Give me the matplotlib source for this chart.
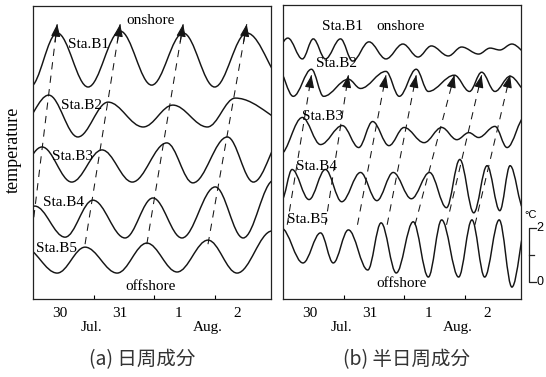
import numpy as np
import matplotlib
matplotlib.use('Agg')
import matplotlib.pyplot as plt
from matplotlib.path import Path
from matplotlib.patches import PathPatch

plt.rcParams['font.family'] = 'Liberation Serif'

# time axis: days from 00:00 Jul. 30; values: temperature anomaly (degC) at each turning point
stations = ['Sta.B1', 'Sta.B2', 'Sta.B3', 'Sta.B4', 'Sta.B5']
day_labels = ['30', '31', '1', '2']
day_label_pos = [0.44, 1.44, 2.40, 3.37]
month_labels = ['Jul.', 'Aug.']
month_label_pos = [0.97, 2.89]

# (a) diurnal component
a_b1_t = [-0.05, 0.40, 0.91, 1.44, 1.96, 2.48, 3.00, 3.53, 4.20]
a_b1_v = [-1.00, 1.00, -1.00, 1.07, -0.93, 1.00, -1.00, 1.00, -0.93]
a_b2_t = [-0.20, 0.26, 0.74, 1.24, 1.82, 2.31, 2.88, 3.34, 4.40]
a_b2_v = [-0.37, 0.74, -0.81, 0.48, -0.44, 0.37, -0.44, 0.63, -0.44]
a_b3_t = [-0.35, 0.15, 0.64, 1.14, 1.64, 2.21, 2.64, 3.21, 3.64, 4.15]
a_b3_v = [-0.67, 0.63, -0.67, 0.52, -0.67, 0.78, -0.70, 1.00, -0.67, 1.07]
a_b4_t = [-0.45, 0.03, 0.53, 0.99, 1.52, 1.98, 2.46, 3.01, 3.47, 3.98]
a_b4_v = [-0.67, 0.48, -0.67, 0.70, -0.70, 0.78, -0.70, 1.19, -0.70, 1.44]
a_b5_t = [-0.15, 0.40, 0.86, 1.39, 1.88, 2.38, 2.89, 3.37, 3.95]
a_b5_v = [0.44, -0.52, 0.44, -0.52, 0.59, -0.48, 0.70, -0.52, 1.04]
a_arrow_from = [-0.04, 0.86, 1.88, 2.89]   # peak times at Sta.B5
a_arrow_to = [0.40, 1.44, 2.48, 3.53]      # peak times at Sta.B1

# (b) semi-diurnal component
b_b1_t = [-0.15, 0.08, 0.32, 0.50, 0.70, 0.95, 1.15, 1.42, 1.70, 1.98, 2.23, 2.45,
          2.73, 2.95, 3.23, 3.42, 3.58, 3.78, 4.05]
b_b1_v = [-0.15, 0.44, -0.33, 0.41, -0.33, 0.41, -0.41, 0.30, -0.33, 0.22, -0.26, 0.15,
          -0.22, 0.11, -0.15, 0.07, 0.00, 0.22, -0.15]
b_b2_t = [-0.08, 0.17, 0.47, 0.67, 1.08, 1.28, 1.70, 1.92, 2.20, 2.40, 2.83, 3.08,
          3.28, 3.50, 3.75, 4.03]
b_b2_v = [0.52, -0.48, 0.52, -0.48, 0.15, -0.19, 0.44, -0.48, 0.52, -0.30, 0.30, -0.30,
          0.41, -0.30, 0.26, -0.30]
b_b3_t = [-0.05, 0.32, 0.62, 0.98, 1.25, 1.48, 1.75, 2.00, 2.33, 2.62, 2.87, 3.07,
          3.23, 3.50, 3.70, 4.00]
b_b3_v = [-0.74, 0.63, -0.37, 0.33, -0.48, 0.48, -0.41, 0.26, -0.30, 0.26, -0.19, 0.07,
          -0.11, 0.30, -0.48, 0.67]
b_b4_t = [-0.02, 0.15, 0.43, 0.70, 0.97, 1.28, 1.55, 1.82, 2.12, 2.42, 2.70, 2.92,
          3.15, 3.37, 3.58, 3.75, 3.98]
b_b4_v = [-0.44, 0.67, -0.44, 0.67, -0.52, 0.56, -0.48, 0.56, -0.41, 0.56, -0.74, 1.04,
          -0.93, 0.81, -0.85, 0.81, -0.81]
b_b5_t = [-0.03, 0.33, 0.62, 0.83, 1.08, 1.40, 1.62, 1.87, 2.15, 2.40, 2.62, 2.90,
          3.12, 3.33, 3.57, 3.78, 4.03]
b_b5_v = [0.81, -0.48, 0.63, -0.48, 0.74, -0.74, 1.00, -0.85, 1.04, -1.00, 1.11, -1.00,
          1.11, -1.00, 1.11, -1.37, 1.04]
b_arrow_from = [0.07, 0.70, 1.23, 1.72, 2.18, 2.70, 3.17]   # at Sta.B5
b_arrow_to = [0.47, 1.08, 1.70, 2.20, 2.83, 3.28, 3.75]     # peaks at Sta.B2


def smooth_path(t, v, off, k=0.36):
    # cubic bezier through turning points, flat tangents at each one
    verts = [(t[0], v[0] + off)]
    codes = [Path.MOVETO]
    for i in range(len(t) - 1):
        dt = t[i + 1] - t[i]
        verts += [(t[i] + k * dt, v[i] + off), (t[i + 1] - k * dt, v[i + 1] + off),
                  (t[i + 1], v[i + 1] + off)]
        codes += [Path.CURVE4] * 3
    return Path(verts, codes)


def draw_panel(ax, curves, offsets, arr_from, arr_to, from_idx, to_idx, from_v, to_v,
               labels_pos, top_pos, bottom_pos):
    for (t, v), off in zip(curves, offsets):
        ax.add_patch(PathPatch(smooth_path(t, v, off), fill=False, ec='#151515', lw=1.05))
    for t0, t1 in zip(arr_from, arr_to):
        y0 = offsets[from_idx] + from_v
        y1 = offsets[to_idx] + to_v
        ax.plot([t0, t1], [y0, y1], color='#151515', lw=0.75, ls=(0, (7, 6)))
        ax.annotate('', xy=(t1, y1), xytext=(t1 - 0.08 * (t1 - t0), y1 - 0.08 * (y1 - y0)),
                    arrowprops=dict(arrowstyle='-|>,head_length=0.75,head_width=0.28',
                                    color='#151515', lw=0.8, shrinkA=0, shrinkB=0))
    for name, (fx, fy) in zip(stations, labels_pos):
        ax.text(fx, fy, name, transform=ax.transAxes, fontsize=11, ha='center', va='center')
    ax.text(top_pos[0], top_pos[1], 'onshore', transform=ax.transAxes, fontsize=11,
            ha='center', va='center')
    ax.text(bottom_pos[0], bottom_pos[1], 'offshore', transform=ax.transAxes, fontsize=11,
            ha='center', va='center')

    ax.set_xlim(0, 3.93)
    ax.set_ylim(0, 10.85)
    ax.set_xticks([1, 2, 3])
    ax.set_xticklabels([])
    ax.set_yticks([])
    ax.tick_params(axis='x', direction='in', length=3, width=0.8)
    for sp in ax.spines.values():
        sp.set_linewidth(0.9)
        sp.set_color('#222222')
    tr = ax.get_xaxis_transform()
    for x, s in zip(day_label_pos, day_labels):
        ax.text(x, -0.048, s, transform=tr, fontsize=11, ha='center', va='center')
    for x, s in zip(month_label_pos, month_labels):
        ax.text(x, -0.096, s, transform=tr, fontsize=11, ha='center', va='center')


fig = plt.figure(figsize=(5.46, 3.77), dpi=100)
ax1 = fig.add_axes([0.0604, 0.2069, 0.4359, 0.7772])
ax2 = fig.add_axes([0.5183, 0.2069, 0.4359, 0.7798])

a_curves = [(a_b1_t, a_b1_v), (a_b2_t, a_b2_v), (a_b3_t, a_b3_v), (a_b4_t, a_b4_v), (a_b5_t, a_b5_v)]
b_curves = [(b_b1_t, b_b1_v), (b_b2_t, b_b2_v), (b_b3_t, b_b3_v), (b_b4_t, b_b4_v), (b_b5_t, b_b5_v)]

draw_panel(ax1, a_curves, [8.85, 6.81, 5.00, 2.96, 1.48], a_arrow_from, a_arrow_to, 4, 0, 0.55, 1.33,
           [(0.235, 0.867), (0.202, 0.659), (0.168, 0.488), (0.130, 0.331), (0.097, 0.174)],
           (0.492, 0.952), (0.496, 0.044))
draw_panel(ax2, b_curves, [9.19, 7.96, 6.07, 4.11, 1.81], b_arrow_from, b_arrow_to, 4, 1, 0.93, 0.30,
           [(0.248, 0.928), (0.223, 0.802), (0.164, 0.621), (0.139, 0.451), (0.105, 0.270)],
           (0.496, 0.928), (0.50, 0.054))

# 2 degC scale bar on the right
sx = 4.07
ax2.plot([sx + 0.1, sx, sx, sx + 0.1], [2.63, 2.63, 0.63, 0.63], color='#222222', lw=0.9, clip_on=False)
ax2.plot([sx, sx + 0.07], [1.63, 1.63], color='#222222', lw=0.9, clip_on=False)
ax2.text(sx + 0.02, 3.1, '°C', fontsize=8, family='Liberation Sans', ha='center', va='center')
ax2.text(sx + 0.11, 2.63, '2', fontsize=9, family='Liberation Sans', ha='left', va='center')
ax2.text(sx + 0.11, 0.63, '0', fontsize=9, family='Liberation Sans', ha='left', va='center')

fig.text(0.024, 0.602, 'temperature', rotation=90, fontsize=13, ha='center', va='center')
fig.text(0.26, 0.045, '(a) 日周成分', fontsize=14, family=['Noto Sans CJK JP', 'DejaVu Sans'],
         ha='center', va='center', color='#333333')
fig.text(0.745, 0.045, '(b) 半日周成分', fontsize=14, family=['Noto Sans CJK JP', 'DejaVu Sans'],
         ha='center', va='center', color='#333333')

fig.savefig('out.png', dpi=100)
